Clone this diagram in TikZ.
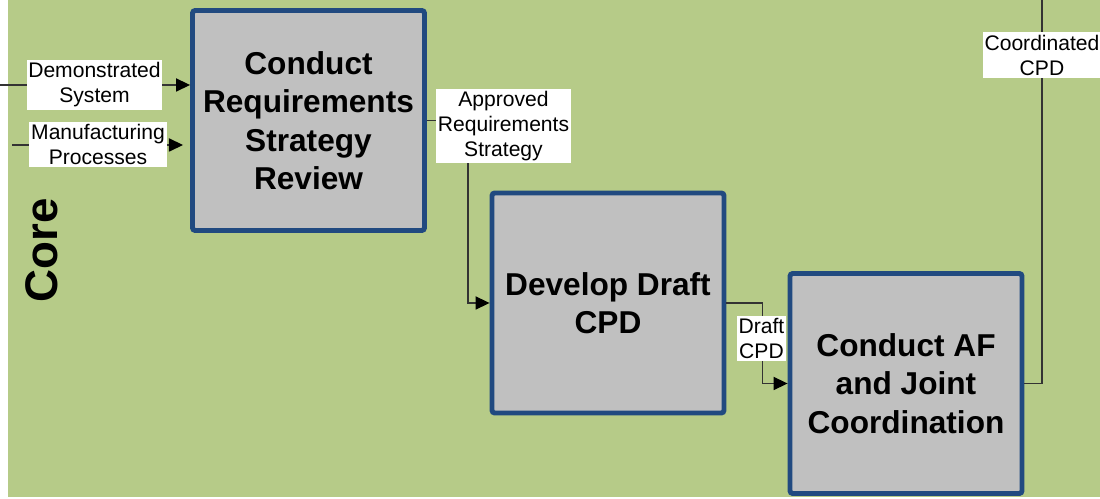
\documentclass[tikz,border=0pt]{standalone}
\usepackage{fontspec}
\setmainfont{Liberation Sans}
\usetikzlibrary{positioning}
\usetikzlibrary{calc}
\usetikzlibrary{arrows.meta}

\definecolor{lanegreen}{RGB}{182,203,136}
\definecolor{boxblue}{RGB}{33,74,128}
\definecolor{boxgray}{RGB}{192,192,192}

\tikzset{
    actbox/.style={draw=boxblue, line width=2.8pt, fill=boxgray, rounded corners=1.5pt,
        minimum width=4.64cm, minimum height=4.4cm, align=center,
        font=\fontsize{18}{21.9}\selectfont\bfseries},
    flowlabel/.style={fill=white, inner xsep=1pt, inner ysep=1.5pt, align=center,
        font=\fontsize{12}{14.2}\selectfont},
    flow/.style={draw=black!80, line width=0.7pt},
    flowarrow/.style={flow, -{Triangle[length=8pt,width=7.5pt,color=black]}},
}

\begin{document}
\begin{tikzpicture}[x=0.02cm, y=-0.02cm]
    \useasboundingbox (0,0) rectangle (1100,499);
    % swim lane
    \fill[lanegreen] (8,0) rectangle (1100,497);
    \node[rotate=90, font=\fontsize{26}{30}\selectfont\bfseries] (lane) at (42,250) {Core};

    % activities
    \node[actbox] (crsr) at (308.5,120.5) {Conduct\\Requirements\\Strategy\\Review};
    \node[actbox] (dddcpd) at (608,303) {Develop Draft\\CPD};
    \node[actbox] (cajc) at (906,383.5) {Conduct AF\\and Joint\\Coordination};

    % loose ends
    \coordinate (demin) at (0,85);
    \coordinate (mfgin) at (12,145);
    \coordinate (coordout) at (1042,0);

    % connectors
    \draw[flowarrow] (demin) -- (crsr.west |- demin);
    \draw[flowarrow, shorten >=4pt] (mfgin) -- (crsr.west |- mfgin);
    \draw[flowarrow] (crsr.east) -- ++(41,0) |- (dddcpd.west);
    \draw[flowarrow] (dddcpd.east) -- ++(36,0) |- (cajc.west);
    \draw[flow] (cajc.east) -| (coordout);

    % labels
    \node[flowlabel] (demsys) at (94.5,85) {Demonstrated\\System};
    \node[flowlabel] (mfgproc) at (98,144.5) {Manufacturing\\Processes};
    \node[flowlabel] (appreq) at (503.5,126) {Approved\\Requirements\\Strategy};
    \node[flowlabel] (draftcpd) at (761.5,338.5) {Draft\\CPD};
    \node[flowlabel] (coordcpd) at (1042,55) {Coordinated\\CPD};
\end{tikzpicture}
\end{document}
